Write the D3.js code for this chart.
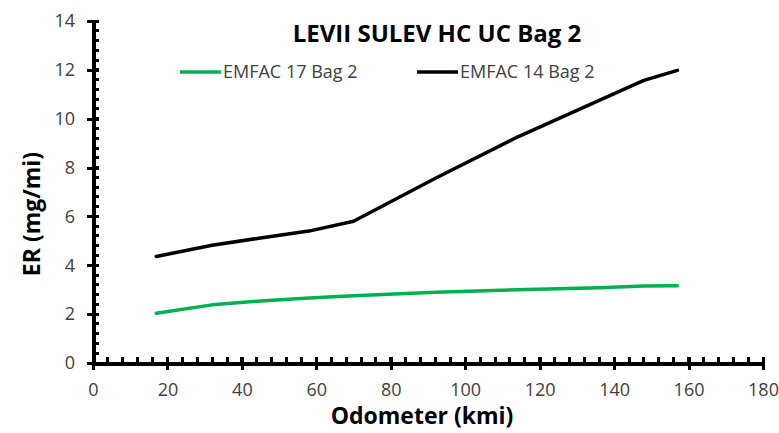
<!DOCTYPE html>
<html>
<head>
  <meta charset="utf-8">
  <title>LEVII SULEV HC UC Bag 2</title>
  <style>
    body { margin: 0; background: #fff; }
    text { font-family: "Open Sans", sans-serif; }
    .tick-label { fill: #404040; font-size: 18px; }
    .legend-label { fill: #404040; font-size: 18px; }
    .title { fill: #000; font-size: 24px; font-weight: bold; }
    .axis-title { fill: #000; font-size: 23px; font-weight: bold; }
    .crisp line, .crisp path { shape-rendering: crispEdges; }
  </style>
  <script src="https://d3js.org/d3.v7.min.js"></script>
</head>
<body>
<svg width="779" height="433"></svg>
<script>

// odometer (kmi)
var odometer = [17, 32, 45, 58, 70, 92, 114, 136, 148, 157];
var emfac17 = [2.04, 2.38, 2.54, 2.66, 2.75, 2.90, 3.00, 3.08, 3.15, 3.16];
var emfac14 = [4.36, 4.82, 5.12, 5.40, 5.80, 7.56, 9.25, 10.75, 11.57, 11.98];

var xTicks = [0, 20, 40, 60, 80, 100, 120, 140, 160, 180];
var yTicks = [0, 2, 4, 6, 8, 10, 12, 14];

var seriesNames = ["EMFAC 17 Bag 2", "EMFAC 14 Bag 2"];
var seriesColors = ["#00b050", "#000000"];

var svg = d3.select("svg");

var x = d3.scaleLinear().domain([0, 180]).range([93, 763]);
var y = d3.scaleLinear().domain([0, 14]).range([363, 21]);

var series = [emfac17, emfac14].map(function(vals, i) {
  return {
    name: seriesNames[i],
    color: seriesColors[i],
    points: vals.map(function(v, j) { return [odometer[j], v]; })
  };
});

var line = d3.line()
    .x(function(d) { return x(d[0]); })
    .y(function(d) { return y(d[1]); });

// axes with crossing major ticks
var yAxis = svg.append("g")
    .attr("class", "crisp")
    .attr("transform", "translate(" + x(0) + ",0)")
    .call(d3.axisLeft(y).tickValues(yTicks).tickSizeInner(6).tickSizeOuter(0).tickPadding(12));
yAxis.select(".domain").attr("stroke", "#000").attr("stroke-width", 4);
yAxis.selectAll(".tick line").attr("stroke", "#000").attr("stroke-width", 3)
    .attr("x1", 6);
yAxis.selectAll(".tick text").attr("class", "tick-label");
yAxis.attr("font-family", null).attr("font-size", null);

var xAxis = svg.append("g")
    .attr("class", "crisp")
    .attr("transform", "translate(0," + y(0) + ")")
    .call(d3.axisBottom(x).tickValues(xTicks).tickSizeInner(7).tickSizeOuter(0).tickPadding(13));
xAxis.select(".domain").attr("stroke", "#000").attr("stroke-width", 4);
xAxis.selectAll(".tick line").attr("stroke", "#000").attr("stroke-width", 3)
    .attr("y1", -6);
xAxis.selectAll(".tick text").attr("class", "tick-label");
xAxis.attr("font-family", null).attr("font-size", null);

// minor ticks, inside the plot
var yMinor = d3.range(0, 14.001, 0.4);
svg.append("g")
    .attr("class", "crisp")
    .selectAll("line")
    .data(yMinor)
    .enter()
    .append("line")
    .attr("x1", x(0)).attr("x2", x(0) + 6)
    .attr("y1", function(d) { return y(d); })
    .attr("y2", function(d) { return y(d); })
    .attr("stroke", "#000").attr("stroke-width", 3);

var xMinor = d3.range(0, 180.001, 4);
svg.append("g")
    .attr("class", "crisp")
    .selectAll("line")
    .data(xMinor)
    .enter()
    .append("line")
    .attr("x1", function(d) { return x(d); })
    .attr("x2", function(d) { return x(d); })
    .attr("y1", y(0)).attr("y2", y(0) - 6)
    .attr("stroke", "#000").attr("stroke-width", 3);

// series lines
svg.append("g").selectAll("path")
    .data(series)
    .enter()
    .append("path")
    .attr("d", function(d) { return line(d.points); })
    .attr("fill", "none")
    .attr("stroke", function(d) { return d.color; })
    .attr("stroke-width", 3.5)
    .attr("stroke-linecap", "round")
    .attr("stroke-linejoin", "round");

// title
svg.append("text")
    .attr("class", "title")
    .attr("x", 437)
    .attr("y", 42)
    .attr("text-anchor", "middle")
    .text("LEVII SULEV HC UC Bag 2");

// legend
var legendX = [180, 417];
var legend = svg.append("g").selectAll("g")
    .data(series)
    .enter()
    .append("g")
    .attr("transform", function(d, i) { return "translate(" + legendX[i] + ",72)"; });

legend.append("line")
    .attr("x1", 0).attr("x2", 41)
    .attr("stroke", function(d) { return d.color; })
    .attr("stroke-width", 3.5);

legend.append("text")
    .attr("class", "legend-label")
    .attr("x", 43)
    .attr("y", 6)
    .text(function(d) { return d.name; });

// axis titles
svg.append("text")
    .attr("class", "axis-title")
    .attr("transform", "translate(40,214) rotate(-90)")
    .attr("text-anchor", "middle")
    .text("ER (mg/mi)");

svg.append("text")
    .attr("class", "axis-title")
    .attr("x", 422)
    .attr("y", 424)
    .attr("text-anchor", "middle")
    .text("Odometer (kmi)");

</script>
</body>
</html>
